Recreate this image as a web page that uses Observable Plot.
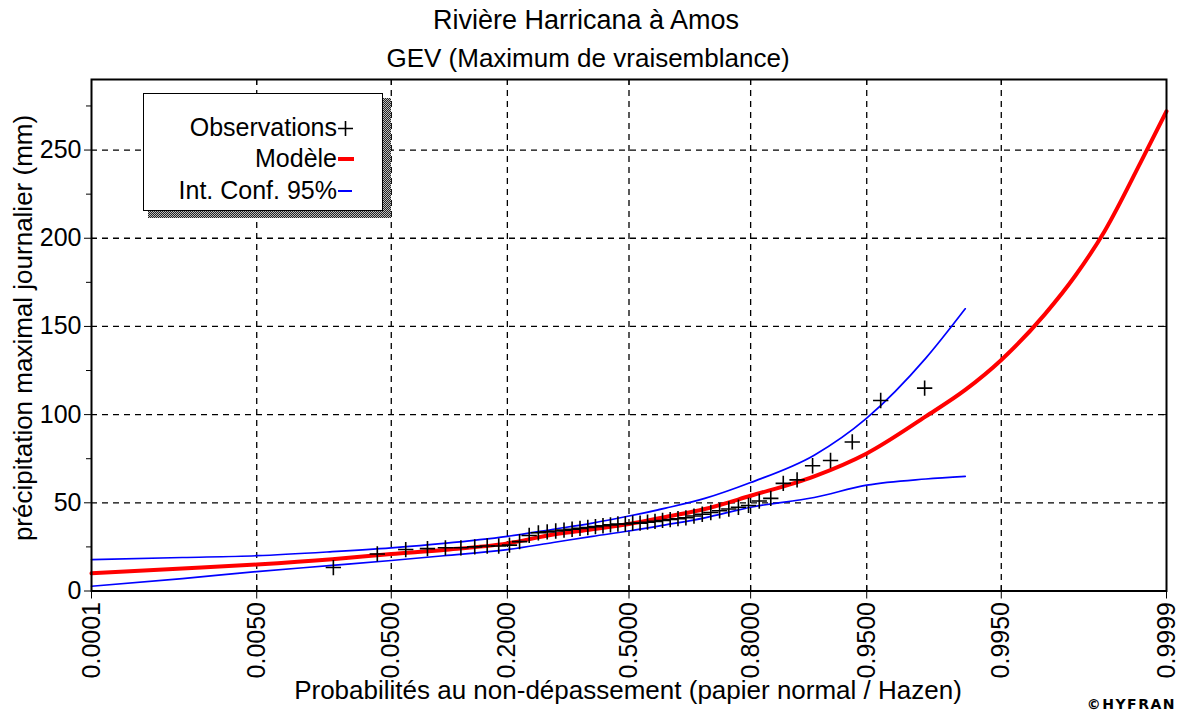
<!DOCTYPE html>
<html><head><meta charset="utf-8">
<script src="https://cdn.jsdelivr.net/npm/d3@7"></script>
<script src="https://cdn.jsdelivr.net/npm/@observablehq/plot@0.6"></script>
<style>
body{margin:0;background:#fff;}
#wrap{position:relative;width:1181px;height:713px;font-family:"Liberation Sans",Arial,sans-serif;color:#000;overflow:hidden;}
.t{position:absolute;white-space:nowrap;font-size:26px;line-height:26px;}
</style></head><body><div id="wrap"></div>
<script>
// ---- Data ----
const obsProb = [0.0204,0.0408,0.0612,0.0816,0.1020,0.1224,0.1429,0.1633,0.1837,0.2041,0.2245,0.2449,0.2653,0.2857,0.3061,0.3265,0.3469,0.3673,0.3878,0.4082,0.4286,0.4490,0.4694,0.4898,0.5102,0.5306,0.5510,0.5714,0.5918,0.6122,0.6327,0.6531,0.6735,0.6939,0.7143,0.7347,0.7551,0.7755,0.7959,0.8163,0.8367,0.8571,0.8776,0.8980,0.9184,0.9388,0.9592,0.9796];
const obsValue = [13.3,21,23.5,24,24.5,24.5,25,25.5,25.5,26,28,31.5,33,33.5,34,34.5,35,35.5,36,36.5,37,37.5,38,38,38.5,38.5,39,39.5,40,40.5,41,41.5,42.5,43.5,44.5,45.5,46.5,47.5,48.5,51,52.5,61,63,71,74,84.5,108,115];

const modelProb  = [0.0001,0.001,0.005,0.02,0.05,0.1,0.2,0.3,0.4,0.5,0.6,0.7,0.8,0.9,0.95,0.98,0.99,0.995,0.998,0.999,0.9995,0.9998,0.9999];
const modelValue = [10,12.7,15,18,21,23.3,27,32,35,38,42,46.5,54,65,78,99,114,131,157,179,204,243,272];

const ciProb   = [0.0001,0.001,0.005,0.02,0.05,0.1,0.2,0.3,0.4,0.5,0.6,0.7,0.8,0.9,0.95,0.98,0.99];
const ciUpper  = [17.8,19,20,22.3,24.5,27,31,35,38.5,42.5,47,52.5,61.5,77,98,132,160];
const ciLower  = [2.7,7,11,14.5,17.3,20,23.5,27.5,31,34,37.5,41.5,47.5,53,60,63.5,65];

const probTicks  = [0.0001,0.005,0.05,0.2,0.5,0.8,0.95,0.995,0.9999];
const probLabels = ["0.0001","0.0050","0.0500","0.2000","0.5000","0.8000","0.9500","0.9950","0.9999"];
const yTicks  = [0,50,100,150,200,250];
const yMinor  = [25,75,125,175,225,275];

const titleText = "Rivière Harricana à Amos";
const subtitleText = "GEV (Maximum de vraisemblance)";
const xLabel = "Probabilités au non-dépassement (papier normal / Hazen)";
const yLabel = "précipitation maximal journalier (mm)";
const legendLabels = ["Observations","Modèle","Int. Conf. 95%"];

// ---- normal probability paper: inverse normal CDF (Acklam) ----
function qnorm(p){
  const a=[-3.969683028665376e+01,2.209460984245205e+02,-2.759285104469687e+02,1.383577518672690e+02,-3.066479806614716e+01,2.506628277459239e+00];
  const b=[-5.447609879822406e+01,1.615858368580409e+02,-1.556989798598866e+02,6.680131188771972e+01,-1.328068155288572e+01];
  const c=[-7.784894002430293e-03,-3.223964580411365e-01,-2.400758277161838e+00,-2.549732539343734e+00,4.374664141464968e+00,2.938163982698783e+00];
  const d=[7.784695709041462e-03,3.224671290700398e-01,2.445134137142996e+00,3.754408661907416e+00];
  const pl=0.02425, ph=1-pl;
  let q,r;
  if(p<pl){q=Math.sqrt(-2*Math.log(p));return (((((c[0]*q+c[1])*q+c[2])*q+c[3])*q+c[4])*q+c[5])/((((d[0]*q+d[1])*q+d[2])*q+d[3])*q+1);}
  if(p>ph){q=Math.sqrt(-2*Math.log(1-p));return -(((((c[0]*q+c[1])*q+c[2])*q+c[3])*q+c[4])*q+c[5])/((((d[0]*q+d[1])*q+d[2])*q+d[3])*q+1);}
  q=p-0.5;r=q*q;return (((((a[0]*r+a[1])*r+a[2])*r+a[3])*r+a[4])*r+a[5])*q/(((((b[0]*r+b[1])*r+b[2])*r+b[3])*r+b[4])*r+1);
}

const obs = obsProb.map((p,i)=>({z:qnorm(p), v:obsValue[i]}));
const model = modelProb.map((p,i)=>({z:qnorm(p), v:modelValue[i]}));
const upper = ciProb.map((p,i)=>({z:qnorm(p), v:ciUpper[i]}));
const lower = ciProb.map((p,i)=>({z:qnorm(p), v:ciLower[i]}));
const tickZ = probTicks.map(qnorm);
const labelOf = new Map(tickZ.map((z,i)=>[z, probLabels[i]]));
const inner = tickZ.slice(1,-1);

const grid = {stroke:"#000", strokeOpacity:1, strokeWidth:1.3, strokeDasharray:"6,5"};
const chart = Plot.plot({
  width:1181, height:713,
  marginLeft:91, marginRight:15, marginTop:79, marginBottom:122.5,
  style:{fontFamily:"Liberation Sans, Arial, sans-serif", background:"white", color:"black", overflow:"visible"},
  x:{type:"linear", domain:[qnorm(0.0001), qnorm(0.9999)]},
  y:{domain:[0,290]},
  marks:[
    Plot.gridX(inner, grid),
    Plot.gridY(yTicks.slice(1), grid),
    Plot.line(upper, {x:"z", y:"v", stroke:"#0000ff", strokeWidth:1.7, curve:"monotone-x"}),
    Plot.line(lower, {x:"z", y:"v", stroke:"#0000ff", strokeWidth:1.7, curve:"monotone-x"}),
    Plot.line(model, {x:"z", y:"v", stroke:"#ff0000", strokeWidth:4, curve:"monotone-x"}),
    Plot.dot(obs, {x:"z", y:"v", symbol:"plus", r:5, stroke:"#000", strokeWidth:1.6}),
    Plot.frame({stroke:"#000", strokeWidth:2}),
    Plot.axisY(yTicks, {anchor:"left", tickSize:7, tickPadding:3, fontSize:25, label:null, tickFormat:d=>String(d)}),
    Plot.axisY(yMinor, {anchor:"left", tickSize:5, label:null, tickFormat:()=>""}),
    Plot.axisY(yTicks.slice(1), {anchor:"right", tickSize:-5, label:null, tickFormat:()=>""}),
    Plot.axisX(tickZ, {anchor:"bottom", tickSize:8, tickPadding:3, tickRotate:-90, fontSize:25, label:null, tickFormat:d=>labelOf.get(d)}),
    Plot.axisX(inner, {anchor:"bottom", tickSize:-5, label:null, tickFormat:()=>""}),
    Plot.axisX(inner, {anchor:"top", tickSize:-5, label:null, tickFormat:()=>""})
  ]
});
const wrap = document.getElementById("wrap");
chart.style.position="absolute"; chart.style.left="0"; chart.style.top="0";
wrap.appendChild(chart);

function addText(txt, css){
  const el=document.createElement("div"); el.className="t"; el.textContent=txt;
  Object.assign(el.style, css); wrap.appendChild(el); return el;
}
addText(titleText, {left:"586px", top:"7px", transform:"translateX(-50%)", fontSize:"27px", lineHeight:"27px"});
addText(subtitleText, {left:"588px", top:"45px", transform:"translateX(-50%)"});
addText(xLabel, {left:"628px", top:"677px", transform:"translateX(-50%)"});
addText(yLabel, {left:"23px", top:"328px", transform:"translate(-50%,-50%) rotate(-90deg)"});
addText("©HYFRAN", {right:"5px", top:"697px", fontSize:"14px", lineHeight:"14px", fontWeight:"bold", fontFamily:"DejaVu Sans, sans-serif", letterSpacing:"1.5px"});

// legend
const sh=document.createElement("div");
Object.assign(sh.style,{position:"absolute",left:"148px",top:"98px",width:"243px",height:"120px",
  background:"repeating-conic-gradient(#222 0 25%, #bbb 0 50%) 0 0/2px 2px"});
wrap.appendChild(sh);
const box=document.createElement("div");
Object.assign(box.style,{position:"absolute",left:"143px",top:"93px",width:"240px",height:"118px",boxSizing:"border-box",
  border:"1.5px solid #000",background:"#fff"});
wrap.appendChild(box);
const rowTops=[115,146,178];
legendLabels.forEach((l,i)=>addText(l,{left:"143px",width:"194px",textAlign:"right",top:rowTops[i]+"px",fontSize:"25px",lineHeight:"25px"}));
const ns="http://www.w3.org/2000/svg";
const ls=document.createElementNS(ns,"svg");
ls.setAttribute("width","1181");ls.setAttribute("height","713");
ls.style.position="absolute";ls.style.left="0";ls.style.top="0";
ls.innerHTML=`<path d="M338,128.5H353M345.5,121V136" stroke="#000" stroke-width="1.6" fill="none"/>
<path d="M338,159H354" stroke="#ff0000" stroke-width="4"/>
<path d="M338,191H352" stroke="#0000ff" stroke-width="2"/>`;
wrap.appendChild(ls);
</script></body></html>
